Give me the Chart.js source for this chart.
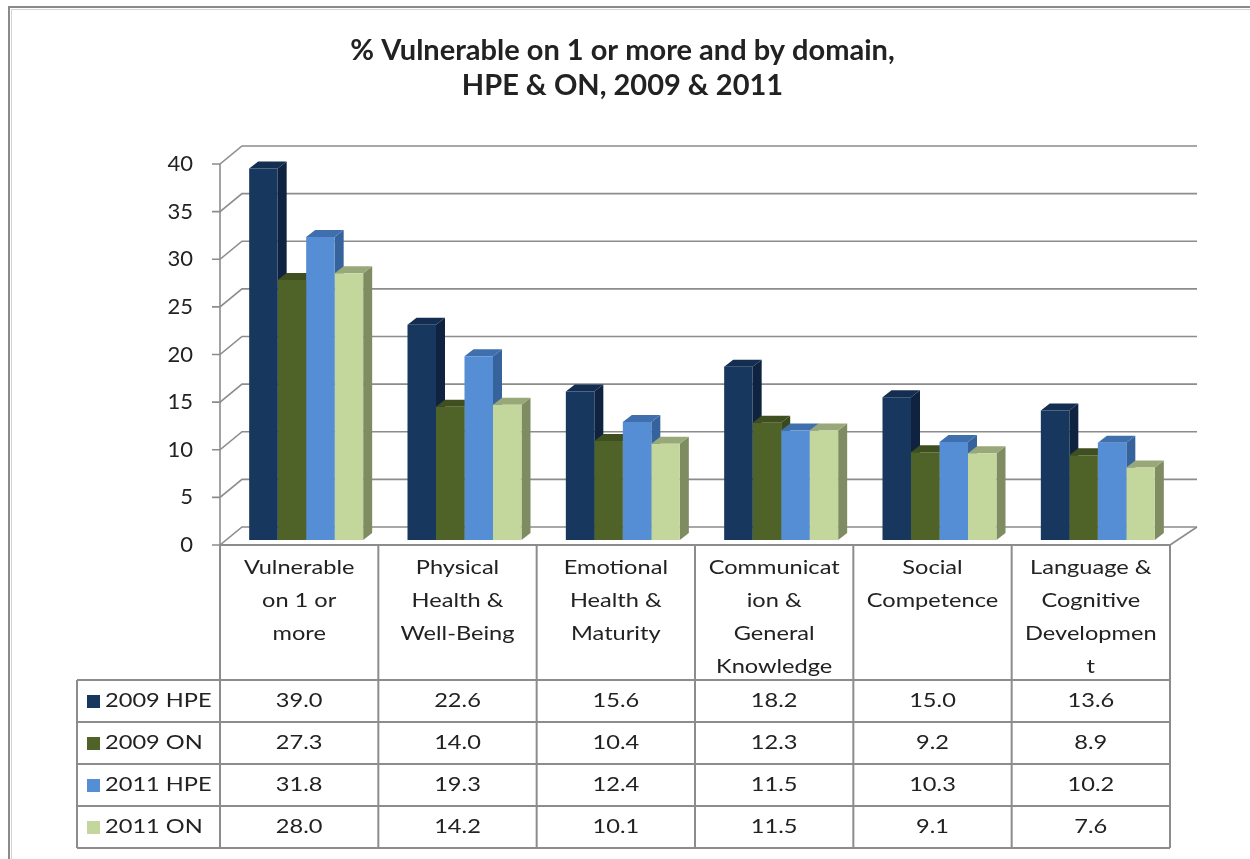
<!DOCTYPE html>
<html>
<head>
<meta charset="utf-8">
<script src="https://cdn.jsdelivr.net/npm/chart.js@4.4.1/dist/chart.umd.min.js"></script>
<style>
  html, body { margin: 0; padding: 0; background: #fff; }
  #wrap { width: 1250px; height: 859px; position: relative; }
</style>
</head>
<body>
<div id="wrap"><canvas id="myChart" width="1250" height="859"></canvas></div>
<script>
// categories (wrapped the way the data table shows them)
var categories = [
    ['Vulnerable', 'on 1 or', 'more'],
    ['Physical', 'Health &', 'Well-Being'],
    ['Emotional', 'Health &', 'Maturity'],
    ['Communicat', 'ion &', 'General', 'Knowledge'],
    ['Social', 'Competence'],
    ['Language &', 'Cognitive', 'Developmen', 't']
];
var seriesNames = ['2009 HPE', '2009 ON', '2011 HPE', '2011 ON'];
var hpe2009 = [39.0, 22.6, 15.6, 18.2, 15.0, 13.6];
var on2009 = [27.3, 14.0, 10.4, 12.3, 9.2, 8.9];
var hpe2011 = [31.8, 19.3, 12.4, 11.5, 10.3, 10.2];
var on2011 = [28.0, 14.2, 10.1, 11.5, 9.1, 7.6];
var yMin = 0, yMax = 40, yStep = 5;

var frontColors = ['#17375e', '#4f6228', '#558ed5', '#c3d69b'];
var sideColors = ['#0f2340', '#3a491c', '#36639c', '#7f8b61'];
var topColors = ['#132e50', '#3f4f1f', '#3f70ad', '#98a879'];

var fontName = 'Lato, "Open Sans", sans-serif';
var textColor = '#222';
var lineColor = '#8c8c8c';

// 3d look
var wallDx = 22, wallDy = -18;   // depth of back wall
var barShiftX = 7, barShiftY = -5;
var barDx = 9, barDy = -7;
var textStretch = 1.18;  // the table text in the picture is a bit wide

function wideText(ctx, s, x, y, align) {
    ctx.save();
    ctx.translate(x, y);
    ctx.scale(textStretch, 1);
    ctx.textAlign = align;
    ctx.fillText(s, 0, 0);
    ctx.restore();
}

var frame3d = {
    id: 'frame3d',
    beforeDraw: function(chart) {
        var ctx = chart.ctx;
        ctx.save();
        ctx.fillStyle = '#fff';
        ctx.fillRect(0, 0, chart.width, chart.height);
        // outer chart border
        ctx.strokeStyle = '#8a8a8a';
        ctx.lineWidth = 2;
        ctx.strokeRect(9, 7, chart.width + 20, chart.height + 20);
        ctx.strokeStyle = '#d4d4d4';
        ctx.lineWidth = 1;
        ctx.strokeRect(11.5, 9.5, chart.width + 20, chart.height + 20);
        ctx.restore();
    },
    beforeDatasetsDraw: function(chart) {
        var ctx = chart.ctx;
        var area = chart.chartArea;
        var y = chart.scales.y;
        ctx.save();
        ctx.strokeStyle = lineColor;
        ctx.lineWidth = 1.6;
        y.ticks.forEach(function(t) {
            var py = y.getPixelForValue(t.value);
            ctx.beginPath();
            ctx.moveTo(area.left - 8, py);
            ctx.lineTo(area.left, py);
            ctx.lineTo(area.left + wallDx, py + wallDy);
            ctx.lineTo(area.right + wallDx + 5, py + wallDy);
            ctx.stroke();
        });
        ctx.beginPath();
        ctx.moveTo(area.left, y.getPixelForValue(yMax));
        ctx.lineTo(area.left, area.bottom);
        ctx.moveTo(area.right, area.bottom);
        ctx.lineTo(area.right + wallDx + 5, area.bottom + wallDy);
        ctx.stroke();
        ctx.restore();

        // side and top faces first, fronts are painted over them by the chart
        ctx.save();
        ctx.translate(barShiftX, barShiftY);
        chart.data.datasets.forEach(function(ds, di) {
            chart.getDatasetMeta(di).data.forEach(function(bar) {
                var x1 = bar.x - bar.width / 2, x2 = bar.x + bar.width / 2;
                var top = bar.y, base = bar.base;
                ctx.fillStyle = sideColors[di];
                ctx.beginPath();
                ctx.moveTo(x2, top);
                ctx.lineTo(x2 + barDx, top + barDy);
                ctx.lineTo(x2 + barDx, base + barDy);
                ctx.lineTo(x2, base);
                ctx.closePath();
                ctx.fill();
                ctx.fillStyle = topColors[di];
                ctx.beginPath();
                ctx.moveTo(x1, top);
                ctx.lineTo(x1 + barDx, top + barDy);
                ctx.lineTo(x2 + barDx, top + barDy);
                ctx.lineTo(x2, top);
                ctx.closePath();
                ctx.fill();
            });
        });
    },
    afterDatasetsDraw: function(chart) {
        chart.ctx.restore();
    }
};

var dataTable = {
    id: 'dataTable',
    afterDraw: function(chart) {
        var ctx = chart.ctx;
        var x = chart.scales.x;
        var area = chart.chartArea;
        var n = categories.length;
        var colW = (area.right - area.left) / n;
        var top = area.bottom;
        var headH = 135, rowH = 42;
        var legLeft = 77;
        var rows = [hpe2009, on2009, hpe2011, on2011];
        var bottom = top + headH + rowH * rows.length;

        ctx.save();
        ctx.strokeStyle = lineColor;
        ctx.lineWidth = 2;
        ctx.beginPath();
        ctx.moveTo(area.left, top);
        ctx.lineTo(area.right, top);
        for (var r = 0; r <= rows.length; r++) {
            var ry = top + headH + r * rowH;
            ctx.moveTo(legLeft, ry);
            ctx.lineTo(area.right, ry);
        }
        for (var c = 0; c <= n; c++) {
            var cx = area.left + c * colW;
            ctx.moveTo(cx, top);
            ctx.lineTo(cx, bottom);
        }
        ctx.moveTo(legLeft, top + headH);
        ctx.lineTo(legLeft, bottom);
        ctx.stroke();

        ctx.fillStyle = textColor;
        ctx.font = '20px ' + fontName;
        ctx.textBaseline = 'middle';
        categories.forEach(function(lines, i) {
            var cx = x.getPixelForValue(i);
            lines.forEach(function(s, k) {
                wideText(ctx, s, cx, top + 23 + k * 33, 'center');
            });
        });
        rows.forEach(function(vals, r) {
            var cy = top + headH + r * rowH + rowH / 2;
            vals.forEach(function(v, i) {
                wideText(ctx, v.toFixed(1), x.getPixelForValue(i), cy, 'center');
            });
            ctx.fillStyle = frontColors[r];
            ctx.fillRect(legLeft + 10, cy - 6, 13, 13);
            ctx.fillStyle = textColor;
            wideText(ctx, seriesNames[r], legLeft + 28, cy, 'left');
        });
        ctx.restore();
    }
};

var ctx = document.getElementById('myChart').getContext('2d');
var myChart = new Chart(ctx, {
    type: 'bar',
    data: {
        labels: categories,
        datasets: [
            { label: seriesNames[0], data: hpe2009, backgroundColor: frontColors[0] },
            { label: seriesNames[1], data: on2009, backgroundColor: frontColors[1] },
            { label: seriesNames[2], data: hpe2011, backgroundColor: frontColors[2] },
            { label: seriesNames[3], data: on2011, backgroundColor: frontColors[3] }
        ]
    },
    options: {
        responsive: false,
        animation: false,
        layout: { padding: { left: 75, right: 80, top: 0, bottom: 314 } },
        datasets: { bar: { categoryPercentage: 0.72, barPercentage: 1, borderWidth: 0, clip: false } },
        scales: {
            x: { display: false },
            y: {
                min: yMin,
                max: yMax,
                afterFit: function(s) { s.width = 145; },
                grid: { display: false, drawTicks: false },
                border: { display: false },
                ticks: {
                    stepSize: yStep,
                    padding: 27,
                    color: textColor,
                    font: { family: fontName, size: 22 }
                }
            }
        },
        plugins: {
            legend: { display: false },
            tooltip: { enabled: false },
            title: {
                display: true,
                text: ['% Vulnerable on 1 or more and by domain,', 'HPE & ON, 2009 & 2011'],
                color: textColor,
                font: { family: fontName, size: 29, weight: 'bold', lineHeight: '35px' },
                padding: { top: 33, bottom: 61 }
            }
        }
    },
    plugins: [frame3d, dataTable]
});
</script>
</body>
</html>
